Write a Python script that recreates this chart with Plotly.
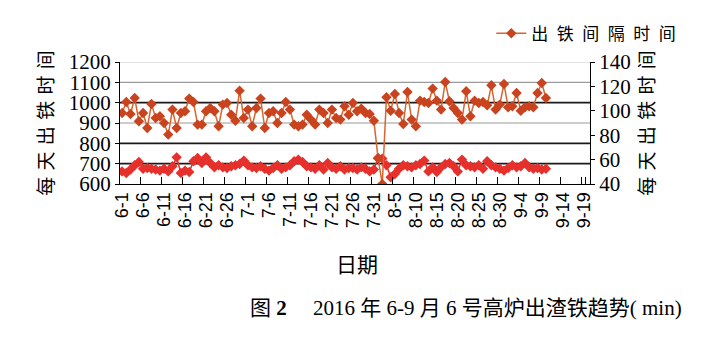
import plotly.graph_objects as go

# categories: daily dates 6-1 .. 9-20
month_days = [(6, 30), (7, 31), (8, 31), (9, 20)]
dates = [f"{m}-{d}" for m, days in month_days for d in range(1, days + 1)]
tick_labels = dates[::5]

# 出铁间隔时间 (right axis, min)
interval = [98.2, 107.2, 97.4, 110.5, 91.4, 98.2, 85.9, 105.6, 94.1, 95.5,
            90.0, 80.5, 101.0, 85.9, 98.2, 99.6, 110.0, 107.2, 88.7, 88.7,
            99.6, 102.3, 99.6, 87.3, 105.1, 106.4, 96.8, 91.9, 116.5, 94.1,
            101.0, 87.3, 102.3, 110.0, 85.9, 98.2, 99.6, 90.0, 98.2, 107.2,
            101.0, 88.7, 87.3, 88.7, 96.8, 92.8, 88.7, 101.0, 98.2, 90.0,
            101.0, 94.1, 92.8, 103.7, 96.8, 106.4, 99.6, 101.8, 98.2, 97.4,
            91.9, 61.0, 40.0, 111.1, 100.1, 113.8, 98.2, 89.2, 115.4, 92.8,
            87.3, 108.3, 107.2, 106.4, 118.2, 108.3, 101.0, 123.6, 107.8, 102.3,
            98.2, 92.8, 116.0, 95.5, 108.3, 106.4, 107.2, 104.5, 120.9, 101.0,
            105.1, 122.0, 102.9, 103.7, 114.6, 100.1, 102.9, 103.7, 102.9, 114.6,
            122.8, 110.5]

# 每天出铁时间 (left axis, min)
daily = [662, 654, 671, 692, 708, 675, 679, 675, 671, 666,
         675, 662, 687, 731, 654, 666, 659, 712, 728, 703,
         731, 703, 682, 692, 682, 679, 687, 692, 698, 715,
         692, 682, 679, 687, 675, 666, 679, 692, 675, 682,
         692, 712, 720, 708, 687, 682, 675, 692, 671, 703,
         682, 675, 687, 671, 679, 679, 671, 682, 675, 662,
         671, 728, 725, 692, 633, 649, 675, 692, 687, 682,
         692, 698, 715, 662, 682, 659, 682, 698, 703, 687,
         662, 720, 692, 687, 682, 692, 675, 712, 692, 682,
         675, 666, 679, 692, 682, 687, 703, 682, 675, 679,
         671, 675]

left_ticks = [600, 700, 800, 900, 1000, 1100, 1200]
right_ticks = [40, 60, 80, 100, 120, 140]
grid_colors = {700: "#1a1a1a", 800: "#1a1a1a", 900: "#9a9a9a",
               1000: "#1a1a1a", 1100: "#9a9a9a", 1200: "#c8c8c8"}

SERIF = "Liberation Serif, Noto Sans CJK SC, serif"
CJK = "Noto Sans CJK SC, sans-serif"
y_title = "\u2004".join("每天出铁时间")

fig = go.Figure()
fig.add_trace(go.Scatter(
    x=dates[:len(daily)], y=daily, mode="lines+markers", showlegend=False,
    line=dict(color="#E6302B", width=1.5),
    marker=dict(symbol="diamond", size=8, color="#E6302B"),
    yaxis="y"))
fig.add_trace(go.Scatter(
    x=dates[:len(interval)], y=interval, mode="lines+markers",
    name="\u2002".join("出铁间隔时间"),
    line=dict(color="#D8642F", width=1.5),
    marker=dict(symbol="diamond", size=8, color="#C9431E"),
    yaxis="y2"))

shapes = []
for v, c in grid_colors.items():
    shapes.append(dict(type="line", xref="paper", x0=0, x1=1, yref="y",
                       y0=v, y1=v, line=dict(color=c, width=1.6 if c == "#1a1a1a" else 1.2),
                       layer="below"))

def px_x(p):
    return (p - 120) / 470

def px_y(p):
    return (184 - p) / 122

fig.update_layout(
    width=728, height=346,
    margin=dict(l=120, r=138, t=62, b=162),
    paper_bgcolor="white", plot_bgcolor="white",
    shapes=shapes,
    xaxis=dict(type="category", categoryorder="array", categoryarray=dates,
               range=[-0.5, len(dates) - 0.5],
               tickmode="array", tickvals=tick_labels, ticktext=tick_labels,
               tickson="boundaries", tickangle=-90,
               ticks="inside", ticklen=7, tickcolor="black",
               showgrid=False, showline=True, linecolor="black", linewidth=1.2,
               tickfont=dict(family="Liberation Sans, Arial, sans-serif", size=18, color="black")),
    yaxis=dict(range=[600, 1200], tickvals=left_ticks, showgrid=False,
               ticks="outside", ticklen=4, tickcolor="black",
               showline=True, linecolor="black", linewidth=1.2, zeroline=False,
               tickfont=dict(family=SERIF, size=21, color="black"),
               title=dict(text=y_title, standoff=10,
                          font=dict(family=CJK, size=19, color="black"))),
    yaxis2=dict(range=[40, 140], tickvals=right_ticks, overlaying="y", side="right",
                showgrid=False, ticks="outside", ticklen=4, tickcolor="black",
                showline=True, linecolor="black", linewidth=1.2, zeroline=False,
                tickfont=dict(family=SERIF, size=21, color="black"),
                title=dict(text=y_title, standoff=10,
                           font=dict(family=CJK, size=19, color="black"))),
    legend=dict(x=0.79, y=1.38, xanchor="left", yanchor="top",
                font=dict(family=CJK, size=17, color="black"),
                bgcolor="rgba(0,0,0,0)", itemwidth=30),
    annotations=[
        dict(text="日期", xref="paper", yref="paper",
             x=px_x(357), y=px_y(263), xanchor="center", yanchor="middle",
             showarrow=False, font=dict(family=CJK, size=21, color="black")),
        dict(text="图 <b>2</b>\u2003 2016 年 6-9 月 6 号高炉出渣铁趋势( min)",
             xref="paper", yref="paper",
             x=px_x(466), y=px_y(308), xanchor="center", yanchor="middle",
             showarrow=False, font=dict(family=SERIF, size=21, color="black")),
    ],
)

fig.write_html("out.html")
